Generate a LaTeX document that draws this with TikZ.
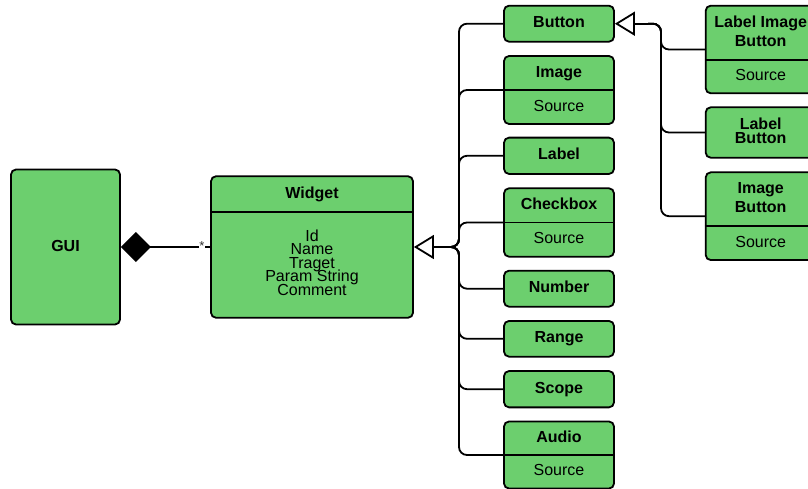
\documentclass[tikz,border=0pt]{standalone}
\usepackage{fontspec}
\setmainfont{Liberation Sans}
\usetikzlibrary{arrows.meta}
\definecolor{boxgreen}{HTML}{6CCF6E}
\definecolor{markgrey}{HTML}{333333}
\newcommand\tightlines{\lineskiplimit=-100pt\relax}
\tikzset{
  umlbox/.style={draw, line width=1.8pt, fill=boxgreen, rounded corners=5pt,
    minimum width=110pt, inner sep=0pt},
  title/.style={font=\fontsize{16}{19}\selectfont\bfseries,
    text height=11.5pt, text depth=3.4pt, inner sep=0pt},
  attr/.style={font=\fontsize{16}{19}\selectfont,
    text height=11.5pt, text depth=3.4pt, inner sep=0pt},
  twoline/.style={font=\fontsize{16}{#1}\selectfont\bfseries\tightlines,
    align=center, inner sep=0pt},
  divider/.style={line width=1.8pt},
  conn/.style={line width=1.8pt, rounded corners=8pt},
  inherit/.style={-{Triangle[open, length=20pt, width=24pt]}},
}
\begin{document}
\begin{tikzpicture}[x=1pt, y=-1pt]
\useasboundingbox (0,0) rectangle (808,489);
\clip (0,0) rectangle (808,489);
\fill[white] (0,0) rectangle (808,489);

% GUI container
\node[umlbox, title, minimum width=109pt, minimum height=155pt] (GUI) at (65.5,247) {GUI};

% Widget class
\node[umlbox, minimum width=202pt, minimum height=141.5pt] (Widget) at (312,247) {};
\draw[divider] (Widget.west |- 0,211.7) -- (Widget.east |- 0,211.7);
\node[title] (widgetname) at (312,194) {Widget};
\node[font=\fontsize{16}{13.6}\selectfont\tightlines, align=center, inner sep=0pt]
  (widgetattrs) at (312,262.6) {Id\\Name\\Traget\\Param String\\Comment};

% Widget subclasses
\node[umlbox, title, minimum height=36pt] (Button) at (559,23.7) {Button};

\node[umlbox, minimum height=68pt] (Image) at (559,90) {};
\draw[divider] (Image.west) -- (Image.east);
\node[title] (imagename) at (559,73) {Image};
\node[attr] (imagesrc) at (559,107) {Source};

\node[umlbox, title, minimum height=36.3pt] (Label) at (559,155.8) {Label};

\node[umlbox, minimum height=68.4pt] (Checkbox) at (559,222.5) {};
\draw[divider] (Checkbox.west) -- (Checkbox.east);
\node[title] (checkboxname) at (559,205.4) {Checkbox};
\node[attr] (checkboxsrc) at (559,239.6) {Source};

\node[umlbox, title, minimum height=36pt] (Number) at (559,288.7) {Number};
\node[umlbox, title, minimum height=35.7pt] (Range) at (559,338.8) {Range};
\node[umlbox, title, minimum height=36.3pt] (Scope) at (559,389.2) {Scope};

\node[umlbox, minimum height=67pt] (Audio) at (559,455) {};
\draw[divider] (Audio.west) -- (Audio.east);
\node[title] (audioname) at (559,438.2) {Audio};
\node[attr] (audiosrc) at (559,471.8) {Source};

% Button subclasses
\node[umlbox, minimum height=87.6pt] (LIB) at (760.7,49.5) {};
\draw[divider] (LIB.west |- 0,60) -- (LIB.east |- 0,60);
\node[twoline=19] (libname) at (760.7,31.2) {Label Image\\Button};
\node[attr] (libsrc) at (760.7,76.7) {Source};

\node[umlbox, minimum height=50.4pt] (LB) at (760.7,132.5) {};
\node[twoline=13.3] (lbname) at (760.7,130.7) {Label\\Button};

\node[umlbox, minimum height=87.7pt] (IB) at (760.7,216.2) {};
\draw[divider] (IB.west |- 0,226) -- (IB.east |- 0,226);
\node[twoline=19] (ibname) at (760.7,197.8) {Image\\Button};
\node[attr] (ibsrc) at (760.7,243) {Source};

% Composition GUI <>-- Widget
\draw[line width=2pt, {Diamond[length=30pt, width=30pt]}-] (GUI.east) -- (Widget.west);
\node[font=\fontsize{13}{13}\selectfont, text=markgrey, fill=white,
  inner xsep=0.8pt, inner ysep=0pt, text height=9pt, text depth=3pt] (mult) at (202,247.2) {*};

% Generalisation bus towards Widget
\coordinate (j1) at (459,247);
\coordinate (b1) at (446,247);
\foreach \c in {Button, Image, Label, Checkbox, Number, Range, Scope, Audio}
  \draw[conn] (\c.west) -| (j1) -- (b1);
\draw[conn, inherit] (b1) -- (Widget.east);

% Generalisation bus towards Button
\coordinate (j2) at (661,23.7);
\coordinate (b2) at (648,23.7);
\foreach \c in {LIB, LB, IB}
  \draw[conn] (\c.west) -| (j2) -- (b2);
\draw[conn, inherit] (b2) -- (Button.east);
\end{tikzpicture}
\end{document}
